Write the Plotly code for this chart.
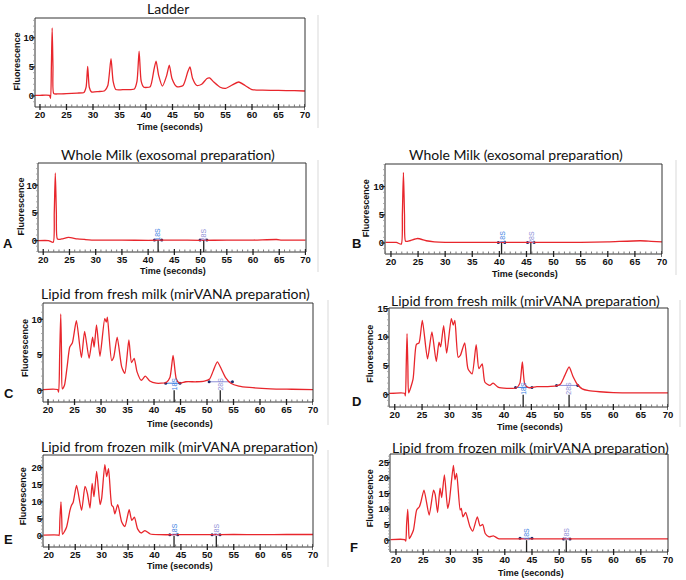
import plotly.graph_objects as go

W, H = 686, 580
RED = '#e8262c'
BLUE18 = '#3a80e2'
LAV28 = '#8c8ed6'
ARIAL = 'Liberation Sans, Arial, sans-serif'
TITLEF = 'Lato, Calibri, sans-serif'

# ---------------- data (time in s, fluorescence) ----------------
ladder_t = [19.0, 20.0, 21.0, 21.8, 22.0, 22.15, 22.3, 22.45, 22.6, 23.5, 25.0, 27.0, 28.3, 28.7, 29.0, 29.3,
            29.7, 31.0, 32.2, 32.8, 33.4, 33.8, 34.3, 36.0, 37.8, 38.3, 38.7, 39.1, 39.6, 40.8, 41.5, 41.9,
            42.4, 43.1, 43.9, 44.4, 44.9, 45.8, 47.0, 47.9, 48.3, 48.8, 49.6, 50.5, 51.5, 52.0, 52.8, 54.0,
            55.0, 56.3, 57.5, 58.7, 60.0, 62.0, 65.0, 68.0, 70.0]
ladder_f = [0.1, 0.1, 0.15, 0.1, -0.4, 5.0, 11.7, 5.0, 0.4, 0.35, 0.4, 0.5, 0.6, 1.5, 5.1, 1.5,
            0.7, 0.75, 0.9, 1.8, 6.4, 2.5, 1.1, 1.1, 1.2, 2.5, 7.7, 2.5, 1.5, 1.6, 4.5, 6.0,
            3.5, 1.7, 3.5, 5.3, 3.0, 1.6, 1.8, 4.2, 5.0, 3.0, 1.8, 2.0, 3.0, 3.1, 2.4, 1.5,
            1.3, 1.9, 2.4, 1.8, 1.1, 1.0, 0.95, 0.9, 0.85]

milkA_t = [19.0, 21.0, 21.9, 22.1, 22.3, 22.5, 22.7, 23.5, 24.8, 26.5, 28.0, 30.0, 35.0, 40.0, 45.0,
           50.0, 55.0, 60.0, 64.5, 65.5, 70.0]
milkA_f = [0.0, 0.0, -0.3, 5.0, 12.2, 5.0, 0.3, 0.3, 0.6, 0.3, 0.2, 0.1, 0.1, 0.05, 0.1,
           0.05, 0.1, 0.1, 0.2, 0.1, 0.1]

milkB_t = [19.0, 21.0, 21.9, 22.1, 22.3, 22.5, 22.7, 23.5, 24.9, 26.5, 28.0, 30.0, 35.0, 40.0, 45.0,
           50.0, 55.0, 60.0, 66.0, 68.0, 70.0]
milkB_f = [0.1, 0.1, -0.2, 5.0, 12.5, 5.0, 0.3, 0.4, 0.8, 0.4, 0.2, 0.1, 0.1, 0.1, 0.1,
           0.1, 0.1, 0.2, 0.4, 0.3, 0.2]

freshC_t = [19.0, 21.8, 22.0, 22.2, 22.4, 22.55, 22.7, 23.1, 23.6, 24.1, 24.6, 25.35, 26.3, 26.9, 27.75,
            28.4, 28.7, 29.15, 29.8, 30.7, 31.0, 31.2, 32.0, 32.4, 33.05, 33.9, 34.5, 35.25, 35.75, 36.25,
            36.8, 37.6, 38.35, 39.2, 40.4, 42.3, 43.0, 43.6, 44.2, 44.8, 46.0, 48.0, 49.5, 50.5, 51.2,
            51.95, 52.7, 53.5, 54.5, 56.0, 58.0, 62.0, 66.0, 70.0]
freshC_f = [0.1, 0.1, -0.25, 5.0, 10.75, 5.0, 0.2, 0.7, 3.3, 6.1, 6.7, 9.8, 4.6, 8.3, 4.5,
            7.5, 6.1, 9.2, 4.8, 10.1, 9.6, 10.3, 4.2, 4.7, 7.5, 3.3, 2.4, 7.1, 3.9, 4.5,
            2.6, 1.4, 2.0, 1.3, 1.0, 1.1, 1.8, 4.9, 1.6, 1.0, 1.2, 1.2, 1.3, 1.6, 2.8,
            4.0, 3.0, 1.8, 1.0, 0.6, 0.4, 0.2, 0.15, 0.1]

freshD_t = [19.0, 21.8, 21.95, 22.1, 22.25, 22.4, 22.55, 23.35, 23.95, 24.45, 25.05, 26.0, 26.8, 27.6,
            28.1, 28.4, 28.95, 29.5, 30.35, 30.7, 31.0, 31.6, 32.0, 32.8, 33.4, 34.15, 34.9, 35.4, 36.0,
            36.5, 37.4, 38.0, 38.9, 40.5, 42.3, 42.9, 43.35, 43.8, 44.5, 46.0, 48.0, 49.5, 50.3, 51.1,
            51.9, 52.6, 53.4, 54.3, 55.5, 57.5, 60.0, 65.0, 70.0]
freshD_f = [0.2, 0.25, -0.2, 5.0, 10.6, 5.0, 0.3, 2.7, 8.7, 9.0, 12.9, 6.2, 10.9, 5.75,
            9.1, 8.3, 12.0, 7.2, 13.2, 12.1, 12.9, 6.5, 6.8, 9.0, 4.5, 3.6, 8.7, 4.5, 5.35,
            2.15, 1.6, 2.0, 1.3, 1.1, 1.2, 2.0, 5.7, 1.8, 1.2, 1.4, 1.4, 1.5, 1.8, 3.3,
            4.8, 3.2, 1.8, 1.0, 0.7, 0.5, 0.35, 0.3, 0.3]

frozenE_t = [19.0, 21.8, 21.95, 22.1, 22.3, 22.45, 22.6, 23.35, 24.0, 24.3, 24.6, 25.25, 26.2, 26.85,
             27.3, 27.8, 28.2, 28.55, 29.05, 29.7, 30.0, 30.6, 30.95, 31.3, 31.9, 32.2, 32.5, 33.05,
             33.8, 34.4, 35.2, 35.7, 36.2, 36.8, 37.5, 38.2, 39.2, 41.0, 45.0, 50.0, 55.0, 60.0, 65.0, 70.0]
frozenE_f = [0.3, 0.3, 0.1, 5.0, 10.0, 5.0, 0.5, 2.6, 7.5, 9.0, 9.8, 14.8, 7.5, 14.5,
             12.5, 8.2, 15.4, 11.5, 18.9, 9.2, 11.0, 20.9, 17.4, 19.7, 9.0, 8.5, 6.5, 9.2,
             4.1, 2.8, 7.7, 4.6, 5.5, 2.1, 0.9, 1.6, 0.6, 0.4, 0.4, 0.4, 0.45, 0.4, 0.45, 0.45]

frozenF_t = [19.0, 21.6, 21.8, 21.95, 22.15, 22.3, 22.45, 23.2, 23.8, 24.3, 24.6, 25.15, 26.1, 26.9,
             27.2, 27.65, 28.1, 28.4, 28.9, 29.5, 29.8, 30.55, 30.85, 31.15, 31.8, 32.0, 32.3, 32.8,
             33.6, 34.1, 34.95, 35.45, 35.95, 36.4, 37.1, 37.9, 38.8, 41.0, 45.0, 50.0, 55.0, 60.0, 65.0, 70.0]
frozenF_f = [0.2, 0.2, -0.3, 5.0, 9.9, 5.0, 0.5, 3.2, 9.7, 10.75, 12.4, 16.1, 8.1, 16.1,
             14.7, 8.9, 16.7, 13.7, 21.0, 10.2, 12.4, 24.0, 19.4, 21.5, 9.7, 10.2, 7.5, 8.9,
             4.3, 2.9, 7.5, 4.6, 5.05, 2.15, 1.1, 1.4, 0.5, 0.4, 0.4, 0.4, 0.4, 0.4, 0.4, 0.4]

# 18S / 28S marker times
markers_A = [41.9, 50.6]
markers_B = [40.4, 45.8]
markers_C = [43.8, 52.5]
markers_D = [43.5, 51.9]
markers_E = [43.7, 51.7]
markers_F = [44.0, 51.3]
marker_names = ['18S', '28S']

# peak integration regions: (start, end, level)
regions_A = [(41.2, 42.6, 0.1), (49.9, 51.2, 0.1)]
regions_B = [(39.8, 41.0, 0.1), (45.2, 46.4, 0.1)]
regions_C = [(42.2, 44.9, 1.0), (50.4, 54.8, 1.2)]
regions_D = [(42.1, 45.1, 1.25), (49.6, 53.5, 1.6)]
regions_E = [(42.9, 44.4, 0.4), (50.9, 52.4, 0.4)]
regions_F = [(42.8, 45.0, 0.6), (50.8, 52.0, 0.4)]

titles = ['Ladder',
          'Whole Milk (exosomal preparation)', 'Whole Milk (exosomal preparation)',
          'Lipid from fresh milk (mirVANA preparation)', 'Lipid from fresh milk (mirVANA preparation)',
          'Lipid from frozen milk (mirVANA preparation)', 'Lipid from frozen milk (mirVANA preparation)']

# ---------------- layout spec (pixels) ----------------
panels = [
    dict(t=ladder_t, f=ladder_f, box=(35, 305, 18, 107), xr=[19.06, 70.0], yr=[-1.9, 13.4],
         title=(168, 8.5), ylab=(16.5, 62), xlab=(170, 127), letter=None, mk=None, rg=None),
    dict(t=milkA_t, f=milkA_f, box=(38, 306, 163, 252), xr=[19.0, 70.1], yr=[-2.05, 14.0],
         title=(167.5, 154), ylab=(20.5, 207), xlab=(172.5, 271), letter=('A', 8, 244), mk=markers_A, rg=regions_A),
    dict(t=milkB_t, f=milkB_f, box=(385, 662, 164, 254), xr=[18.9, 70.0], yr=[-1.95, 14.0],
         title=(516, 154), ylab=(366.3, 208), xlab=(524.5, 273.5), letter=('B', 356, 244), mk=markers_B, rg=regions_B),
    dict(t=freshC_t, f=freshC_f, box=(43, 313, 303, 402), xr=[19.05, 70.0], yr=[-1.65, 12.3],
         title=(175, 293.5), ylab=(25, 348), xlab=(180, 423.5), letter=('C', 8.5, 393), mk=markers_C, rg=regions_C),
    dict(t=freshD_t, f=freshD_f, box=(389, 668, 308, 407), xr=[18.95, 70.0], yr=[-2.15, 15.05],
         title=(525.5, 300), ylab=(369.7, 354), xlab=(529.5, 427.5), letter=('D', 356.5, 401.5), mk=markers_D, rg=regions_D),
    dict(t=frozenE_t, f=frozenE_f, box=(43, 313, 455, 547), xr=[18.9, 70.0], yr=[-3.2, 23.7],
         title=(179, 446), ylab=(23.3, 496), xlab=(180, 566), letter=('E', 8.5, 539), mk=markers_E, rg=regions_E),
    dict(t=frozenF_t, f=frozenF_f, box=(390, 668, 454, 552), xr=[18.9, 70.0], yr=[-3.8, 27.7],
         title=(530, 447), ylab=(370.3, 498), xlab=(531, 572.5), letter=('F', 353.5, 547), mk=markers_F, rg=regions_F),
]

fig = go.Figure()
layout = dict(width=W, height=H, margin=dict(l=0, r=0, t=0, b=0), plot_bgcolor='white', showlegend=False)
annotations = []
shapes = []


def ax_x(px):
    return px / W


def ax_y(py):
    return 1 - py / H


for i, (p, ttl) in enumerate(zip(panels, titles), start=1):
    sfx = '' if i == 1 else str(i)
    xr_, yr_ = 'x' + sfx, 'y' + sfx
    L, R, T, B = p['box']
    layout['xaxis' + sfx] = dict(
        domain=[ax_x(L), ax_x(R)], range=p['xr'], anchor=yr_, tickmode='linear', tick0=0, dtick=5,
        ticks='', showline=False, showgrid=False, zeroline=False, automargin=False,
        tickfont=dict(family=ARIAL, size=9.5, color='#111', weight='bold'))
    layout['yaxis' + sfx] = dict(
        domain=[ax_y(B), ax_y(T)], range=p['yr'], anchor=xr_, tickmode='linear', tick0=0, dtick=5,
        ticks='', showline=False, showgrid=False, zeroline=False, automargin=False,
        tickfont=dict(family=ARIAL, size=9.5, color='#111', weight='bold'))

    # frame and ticks (drawn as shapes anchored to the axes)
    xd, yd = xr_ + ' domain', yr_ + ' domain'
    shapes.append(dict(type='rect', xref=xd, yref=yd, x0=0, x1=1, y0=0, y1=1,
                       line=dict(color='#333', width=1), fillcolor='rgba(0,0,0,0)', layer='above'))
    for v in range(19, 71):
        major = (v % 5 == 0)
        shapes.append(dict(type='line', xref=xr_, yref=yd, ysizemode='pixel', yanchor=0,
                           x0=v, x1=v, y0=(-3 if major else 0), y1=(3 if major else 2.5),
                           line=dict(color=('#222' if major else '#777'), width=(1.3 if major else 1))))
    for v in range(int(p['yr'][0]), int(p['yr'][1]) + 1):
        major = (v % 5 == 0)
        shapes.append(dict(type='line', xref=xd, yref=yr_, xsizemode='pixel', xanchor=0,
                           x0=(-4 if major else -2), x1=0, y0=v, y1=v,
                           line=dict(color=('#222' if major else '#999'), width=(1.2 if major else 0.8))))

    if p['mk'] is not None:
        for j, (m, name) in enumerate(zip(p['mk'], marker_names)):
            col = BLUE18 if j == 0 else LAV28
            x0, x1, lv = p['rg'][j]
            fig.add_trace(go.Scatter(x=[x0, x1], y=[lv, lv], mode='lines+markers', xaxis=xr_, yaxis=yr_,
                                     line=dict(color=col, width=1),
                                     marker=dict(color='#1b2a6b', size=3), hoverinfo='skip'))
            shapes.append(dict(type='line', xref=xr_, yref=yr_, x0=m, x1=m, y0=p['yr'][0], y1=0,
                               line=dict(color='#222', width=1.3)))

    fig.add_trace(go.Scatter(x=p['t'], y=p['f'], mode='lines', xaxis=xr_, yaxis=yr_,
                             line=dict(color=RED, width=1.3, shape='spline', smoothing=0.6)))

    if p['mk'] is not None:
        for j, (m, name) in enumerate(zip(p['mk'], marker_names)):
            col = BLUE18 if j == 0 else LAV28
            annotations.append(dict(x=m, y=0, xref=xr_, yref=yr_, text=name, showarrow=False,
                                    textangle=-90, yshift=6, font=dict(family=ARIAL, size=7, color=col),
                                    xanchor='center', yanchor='middle'))

    tx, ty = p['title']
    annotations.append(dict(x=ax_x(tx), y=ax_y(ty), xref='paper', yref='paper', text=ttl, showarrow=False,
                            font=dict(family=TITLEF, size=14, color='#111'), xanchor='center', yanchor='middle'))
    lx, ly = p['ylab']
    annotations.append(dict(x=ax_x(lx), y=ax_y(ly), xref='paper', yref='paper', text='Fluorescence',
                            showarrow=False, textangle=-90,
                            font=dict(family=ARIAL, size=9, color='#111', weight='bold'),
                            xanchor='center', yanchor='middle'))
    bx, by = p['xlab']
    annotations.append(dict(x=ax_x(bx), y=ax_y(by), xref='paper', yref='paper', text='Time (seconds)',
                            showarrow=False, font=dict(family=ARIAL, size=9, color='#111', weight='bold'),
                            xanchor='center', yanchor='middle'))
    if p['letter'] is not None:
        lt, ltx, lty = p['letter']
        annotations.append(dict(x=ax_x(ltx), y=ax_y(lty), xref='paper', yref='paper', text=lt,
                                showarrow=False, font=dict(family=ARIAL, size=13, color='#111', weight='bold'),
                                xanchor='center', yanchor='middle'))

# faint image-edge separators
for (sx, sy0, sy1) in [(318, 15, 128), (318, 160, 272), (328, 300, 425), (328, 450, 567),
                       (676, 160, 275), (680, 300, 427)]:
    shapes.append(dict(type='line', xref='paper', yref='paper', x0=ax_x(sx), x1=ax_x(sx),
                       y0=ax_y(sy0), y1=ax_y(sy1), line=dict(color='#ececec', width=2)))

layout['annotations'] = annotations
layout['shapes'] = shapes
fig.update_layout(**layout)
fig.write_html('out.html', config={'displayModeBar': False},
               post_script="document.body.style.margin='0';")
